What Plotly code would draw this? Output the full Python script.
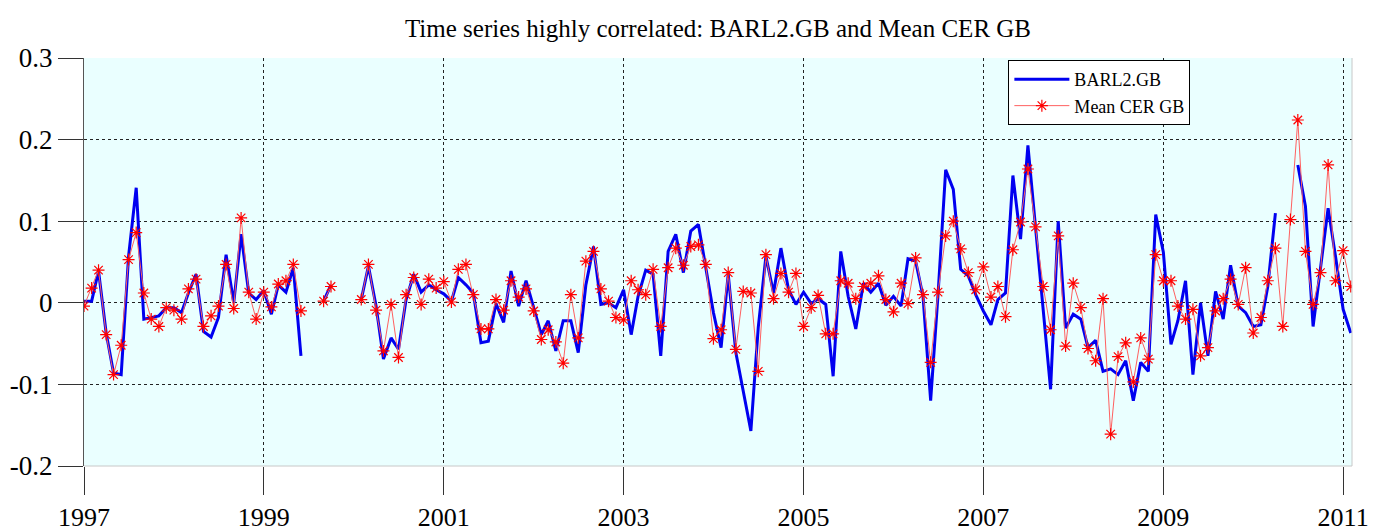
import pandas as pd
import plotly.graph_objects as go

dates = pd.date_range("1997-01-01", periods=170, freq="MS")

barl2_gb = [
    0.002, 0.002, 0.039, -0.037, -0.086, -0.088, 0.057, 0.141, -0.020, -0.018,
    -0.016, -0.006, -0.006, -0.012, 0.012, 0.035, -0.035, -0.042, -0.018, 0.059,
    0.000, 0.084, 0.012, 0.004, 0.015, -0.014, 0.022, 0.013, 0.043, -0.065,
    None, None, 0.002, 0.022, None, None, None, 0.004, 0.045, -0.004,
    -0.069, -0.043, -0.057, 0.004, 0.035, 0.013, 0.022, 0.016, 0.011, 0.002,
    0.031, 0.022, 0.012, -0.049, -0.047, -0.001, -0.024, 0.039, -0.004, 0.027,
    -0.006, -0.039, -0.022, -0.059, -0.022, -0.022, -0.061, 0.022, 0.069, -0.002,
    0.000, -0.006, 0.016, -0.039, 0.008, 0.040, 0.035, -0.065, 0.063, 0.084,
    0.037, 0.088, 0.096, 0.045, -0.012, -0.055, 0.035, -0.061, -0.110, -0.157,
    -0.030, 0.057, 0.012, 0.067, 0.016, -0.002, 0.013, -0.001, 0.005, -0.002,
    -0.090, 0.063, 0.008, -0.032, 0.024, 0.013, 0.024, -0.003, 0.008, -0.004,
    0.054, 0.051, 0.008, -0.120, 0.010, 0.163, 0.139, 0.041, 0.033, 0.010,
    -0.010, -0.027, 0.004, 0.012, 0.156, 0.078, 0.193, 0.094, -0.004, -0.106,
    0.100, -0.031, -0.014, -0.020, -0.055, -0.046, -0.084, -0.081, -0.088, -0.071,
    -0.120, -0.073, -0.084, 0.108, 0.062, -0.051, -0.022, 0.027, -0.088, 0.000,
    -0.065, 0.014, -0.020, 0.046, -0.004, -0.012, -0.029, -0.027, 0.020, 0.110,
    None, None, 0.169, 0.118, -0.029, 0.045, 0.116, 0.057, -0.008, -0.037,
]

mean_cer_gb = [
    -0.004, 0.018, 0.040, -0.039, -0.088, -0.052, 0.053, 0.086, 0.012, -0.020,
    -0.029, -0.006, -0.009, -0.020, 0.017, 0.029, -0.029, -0.016, -0.004, 0.047,
    -0.007, 0.104, 0.013, -0.020, 0.013, -0.005, 0.023, 0.027, 0.047, -0.010,
    None, None, 0.002, 0.020, None, None, None, 0.004, 0.047, -0.009,
    -0.059, -0.002, -0.067, 0.010, 0.031, -0.002, 0.029, 0.018, 0.026, 0.001,
    0.041, 0.047, 0.010, -0.032, -0.032, 0.004, -0.009, 0.027, 0.007, 0.017,
    -0.010, -0.045, -0.033, -0.048, -0.074, 0.010, -0.043, 0.051, 0.063, 0.017,
    0.002, -0.018, -0.021, 0.027, 0.016, 0.010, 0.041, -0.029, 0.043, 0.067,
    0.046, 0.069, 0.071, 0.047, -0.044, -0.033, 0.037, -0.057, 0.014, 0.012,
    -0.084, 0.059, 0.005, 0.036, 0.013, 0.036, -0.029, -0.006, 0.009, -0.038,
    -0.038, 0.027, 0.024, 0.005, 0.020, 0.024, 0.033, 0.004, -0.011, 0.024,
    -0.001, 0.055, 0.010, -0.073, 0.013, 0.082, 0.100, 0.066, 0.037, 0.016,
    0.044, 0.007, 0.020, -0.017, 0.065, 0.099, 0.164, 0.093, 0.020, -0.033,
    0.082, -0.053, 0.024, -0.006, -0.056, -0.071, 0.005, -0.161, -0.066, -0.049,
    -0.097, -0.043, -0.069, 0.059, 0.027, 0.027, -0.004, -0.020, -0.008, -0.065,
    -0.055, -0.010, 0.005, 0.029, -0.002, 0.043, -0.037, -0.018, 0.027, 0.067,
    -0.029, 0.102, 0.224, 0.063, -0.002, 0.037, 0.169, 0.027, 0.064, 0.020,
]

y_ticks = [-0.2, -0.1, 0, 0.1, 0.2, 0.3]
y_tick_text = ["-0.2", "-0.1", "0", "0.1", "0.2", "0.3"]
x_tick_years = [1997, 1999, 2001, 2003, 2005, 2007, 2009, 2011]

serif = "Liberation Serif, Times New Roman, serif"

fig = go.Figure()
fig.add_trace(go.Scatter(
    x=dates, y=barl2_gb, mode="lines", name="BARL2.GB",
    line=dict(color="#0000F0", width=3),
))
fig.add_trace(go.Scatter(
    x=dates, y=mean_cer_gb, mode="lines+markers", name="Mean CER GB",
    line=dict(color="#FF6060", width=1),
    marker=dict(symbol="asterisk-open", size=10, color="#FF0000",
                line=dict(color="#FF0000", width=1.2)),
))

fig.update_layout(
    width=1384, height=531,
    margin=dict(l=84, r=32, t=58, b=65),
    paper_bgcolor="white",
    plot_bgcolor="#EAFFFF",
    title=dict(text="Time series highly correlated: BARL2.GB and Mean CER GB",
               x=0.5, xref="paper", y=0.947, yanchor="middle",
               font=dict(family=serif, size=25, color="black")),
    font=dict(family=serif, color="black"),
    showlegend=True,
    legend=dict(x=0.729, y=0.995, xanchor="left", yanchor="top",
                bgcolor="white", bordercolor="black", borderwidth=1,
                font=dict(family=serif, size=18, color="black"),
                itemwidth=55, tracegroupgap=0),
    shapes=[
        dict(type="line", xref="paper", yref="paper", x0=0, x1=1, y0=0, y1=0,
             line=dict(color="#C8C8C8", width=1), layer="above"),
        dict(type="line", xref="paper", yref="paper", x0=1, x1=1, y0=0, y1=1,
             line=dict(color="#C8C8C8", width=1), layer="above"),
    ],
)

fig.update_xaxes(
    range=["1997-01-01", "2011-02-06"],
    tickvals=[pd.Timestamp(f"{yr}-01-01") for yr in x_tick_years],
    ticktext=[str(yr) for yr in x_tick_years],
    ticks="outside", ticklen=28, tickcolor="#333333", tickwidth=1,
    tickfont=dict(family=serif, size=26, color="black"),
    ticklabelstandoff=0,
    showgrid=True, gridcolor="#222222", gridwidth=1, griddash="dot",
    showline=False, zeroline=False, automargin=False,
)
fig.update_yaxes(
    range=[-0.2, 0.3],
    tickvals=y_ticks, ticktext=y_tick_text,
    ticks="outside", ticklen=25, tickcolor="#333333", tickwidth=1,
    tickfont=dict(family=serif, size=27, color="black"),
    showgrid=True, gridcolor="#222222", gridwidth=1, griddash="dot",
    showline=True, linecolor="#555555", linewidth=1,
    zeroline=False, automargin=False,
)

fig.write_html("out.html",
               config={"displayModeBar": False},
               post_script="document.body.style.margin='0px';document.body.style.overflow='hidden';")
